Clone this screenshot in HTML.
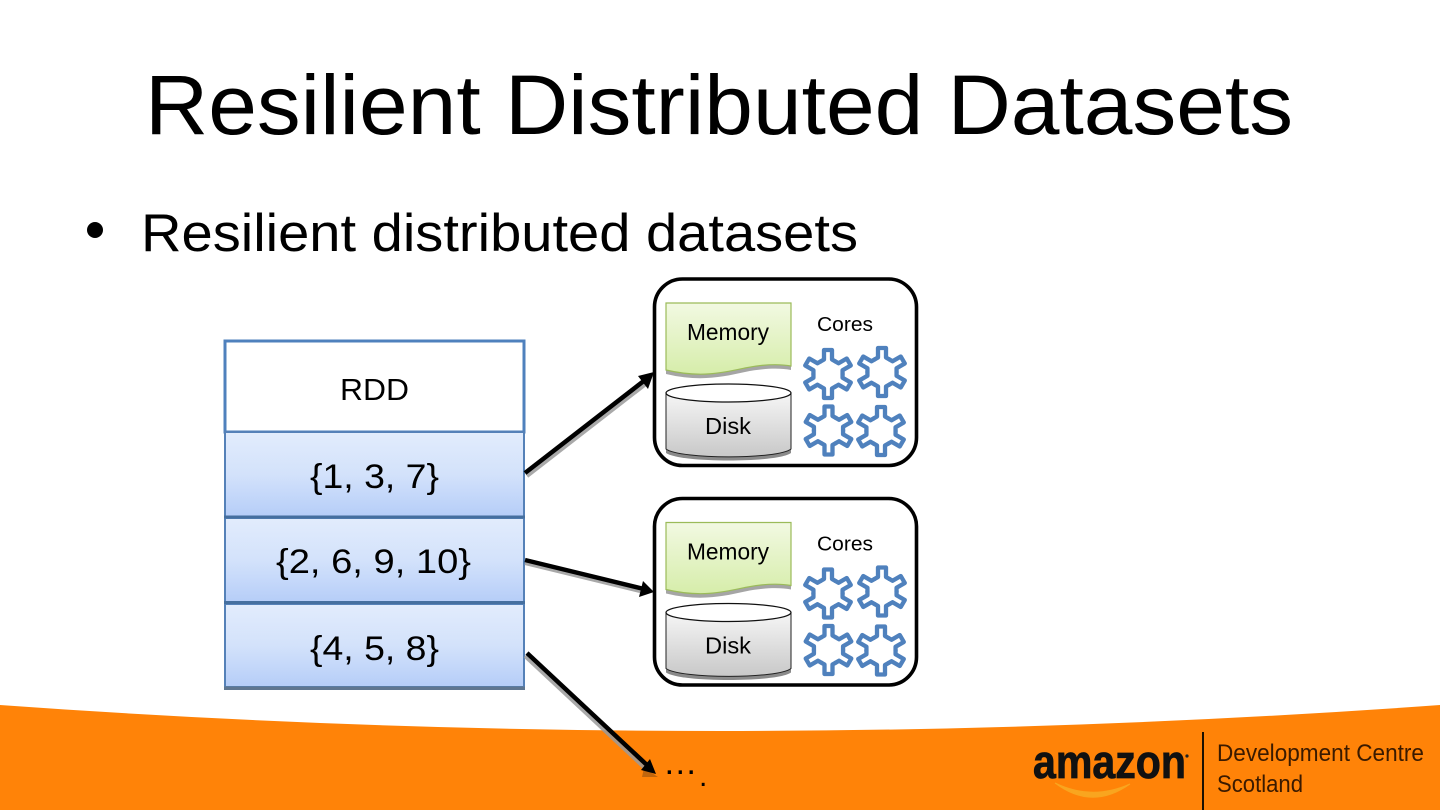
<!DOCTYPE html>
<html><head><meta charset="utf-8"><style>
html,body{margin:0;padding:0;width:1440px;height:810px;overflow:hidden;background:#fff}
svg{display:block}
text{font-family:"Liberation Sans",sans-serif;fill:#000}
</style></head><body>
<svg width="1440" height="810" viewBox="0 0 1440 810" xmlns="http://www.w3.org/2000/svg">
<defs>
<linearGradient id="blue" x1="0" y1="0" x2="0" y2="1"><stop offset="0" stop-color="#e2ecfc"/><stop offset=".5" stop-color="#d3e2fb"/><stop offset="1" stop-color="#b5cdf8"/></linearGradient>
<linearGradient id="green" x1="0" y1="0" x2="0" y2="1"><stop offset="0" stop-color="#f2f9e2"/><stop offset="1" stop-color="#d6edaa"/></linearGradient>
<linearGradient id="grey" x1="0" y1="0" x2="0" y2="1"><stop offset="0" stop-color="#f6f6f6"/><stop offset="1" stop-color="#c8c8c8"/></linearGradient>
<g id="tooth"><path d="M-7.3,-12.6 L-4,-14.5 L-4,-24 L4,-24 L4,-14.5 L7.3,-12.6" fill="none" stroke="#4f81bd" stroke-width="4.300" stroke-linejoin="round" stroke-linecap="round"/></g>
<g id="gear">
<use href="#tooth"/><use href="#tooth" transform="rotate(60)"/><use href="#tooth" transform="rotate(120)"/><use href="#tooth" transform="rotate(180)"/><use href="#tooth" transform="rotate(240)"/><use href="#tooth" transform="rotate(300)"/>
</g>
<g id="node">
<rect x="654.5" y="279" width="262" height="186.500" rx="28" fill="#fff" stroke="#000" stroke-width="3.6"/>
<path d="M666,310 V374 C700,382 722,377 745,372 C765,368 780,368 791,370 V310 Z" fill="#8f8f8f" opacity=".8"/>
<path d="M666,303 V370 C700,378 722,373 745,368 C765,364 780,364 791,366 V303 Z" fill="url(#green)" stroke="#9bbb59" stroke-width="1.2"/>
<path d="M666,395 V453 C680,463 778,463 791,453 V395 Z" fill="#8a8a8a"/>
<path d="M666,393 V449 C680,459.500 778,459.500 791,449 V393 Z" fill="url(#grey)" stroke="#222" stroke-width="1"/>
<ellipse cx="728.500" cy="393" rx="62.500" ry="9" fill="#fff" stroke="#111" stroke-width="1.300"/>
<text x="687" y="340" font-size="23" textLength="82" lengthAdjust="spacingAndGlyphs">Memory</text>
<text x="705" y="434" font-size="23" textLength="46" lengthAdjust="spacingAndGlyphs">Disk</text>
<text x="817" y="331" font-size="20.500" textLength="56" lengthAdjust="spacingAndGlyphs">Cores</text>
<use href="#gear" x="828" y="374"/>
<use href="#gear" x="882" y="372"/>
<use href="#gear" x="828.500" y="430.500"/>
<use href="#gear" x="881" y="431"/>
</g>
</defs>

<path d="M0,705 Q720,757 1440,705 V810 H0 Z" fill="#ff8308"/>

<text x="145" y="134" font-size="84" textLength="1148" lengthAdjust="spacingAndGlyphs">Resilient Distributed Datasets</text>
<circle cx="95" cy="230" r="8" fill="#000"/>
<text x="141" y="251" font-size="53" textLength="717" lengthAdjust="spacingAndGlyphs">Resilient distributed datasets</text>

<rect x="225" y="341" width="299" height="91" fill="#fff" stroke="#4f81bd" stroke-width="3"/>
<rect x="225" y="432" width="299" height="85" fill="url(#blue)" stroke="#5581b8" stroke-width="2"/>
<rect x="225" y="518" width="299" height="85" fill="url(#blue)" stroke="#5581b8" stroke-width="2"/>
<rect x="225" y="604" width="299" height="83" fill="url(#blue)" stroke="#5581b8" stroke-width="2"/>
<rect x="224" y="515.500" width="301" height="3" fill="#456f9f"/>
<rect x="224" y="601" width="301" height="3" fill="#456f9f"/>
<rect x="224" y="686.500" width="301" height="3.500" fill="#5f7690"/>
<text x="340" y="400" font-size="31" textLength="69" lengthAdjust="spacingAndGlyphs">RDD</text>
<text x="310" y="488" font-size="34" textLength="129" lengthAdjust="spacingAndGlyphs">{1, 3, 7}</text>
<text x="276" y="573" font-size="34" textLength="195" lengthAdjust="spacingAndGlyphs">{2, 6, 9, 10}</text>
<text x="310" y="660" font-size="34" textLength="129" lengthAdjust="spacingAndGlyphs">{4, 5, 8}</text>

<use href="#node"/>
<use href="#node" y="219.500"/>

<g fill="none" stroke="#9a9a9a" stroke-width="4" opacity=".85">
<path d="M527,476 L647,383"/>
<path d="M525,563 L644,592"/>
<path d="M525,656 L646,769"/>
</g>
<path d="M642,777 L658,777 L644,768 Z" fill="#a65a10" opacity=".7"/>
<g fill="none" stroke="#000" stroke-width="4.500">
<path d="M525,473 L645,380"/>
<path d="M525,560 L644,589"/>
<path d="M527,653 L648,766"/>
</g>
<path d="M654,372 L638,376 L648,389 Z" fill="#000"/>
<path d="M654,592 L643,581 L639,597 Z" fill="#000"/>
<path d="M656,774 L641,770 L650,759 Z" fill="#000"/>

<text x="663" y="774" font-size="34.500">…</text>
<text x="699" y="786" font-size="30">.</text>

<text x="1033" y="778" font-size="47" font-weight="bold" textLength="153" lengthAdjust="spacingAndGlyphs" style="fill:#111;stroke:#111;stroke-width:.8">amazon</text>
<circle cx="1187" cy="756" r="1.600" fill="#222"/>
<path d="M1055,783 Q1092,811 1130,784 Q1092,801 1055,783 Z" fill="#f9a51f" stroke="#f9a51f" stroke-width="1"/>
<rect x="1202" y="732" width="2" height="78" fill="#1a1000"/>
<text x="1217" y="761" font-size="24" textLength="207" lengthAdjust="spacingAndGlyphs" style="fill:#3a1a00">Development Centre</text>
<text x="1217" y="792" font-size="24" textLength="86" lengthAdjust="spacingAndGlyphs" style="fill:#3a1a00">Scotland</text>
</svg>
</body></html>
